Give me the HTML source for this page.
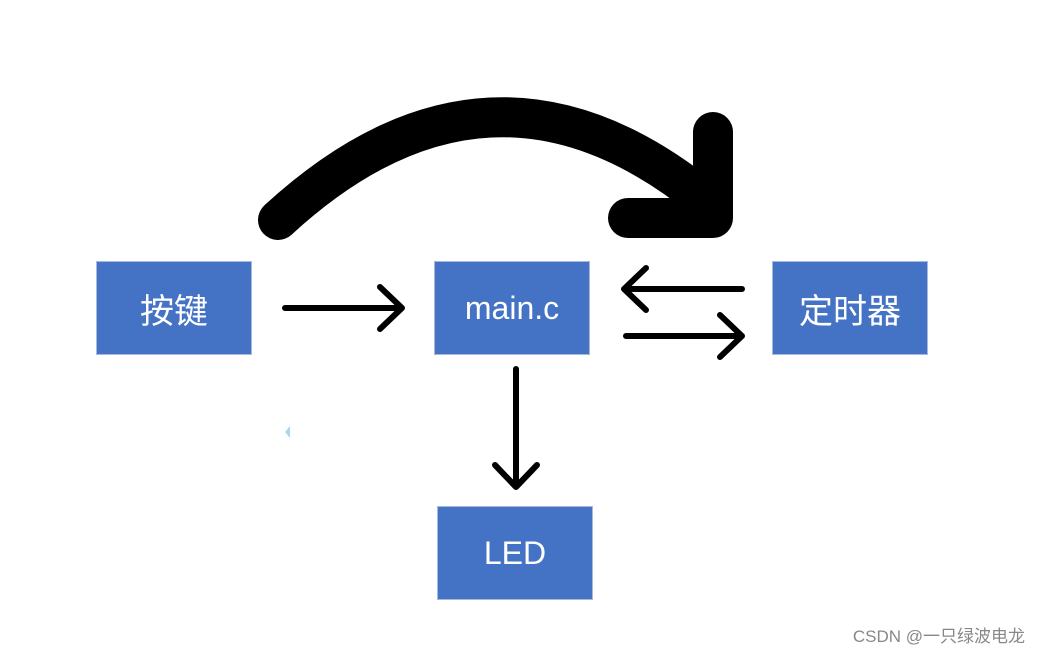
<!DOCTYPE html>
<html><head><meta charset="utf-8"><style>
body{margin:0;width:1040px;height:652px;background:#fff;position:relative;overflow:hidden;font-family:"Liberation Sans","Noto Sans CJK SC",sans-serif}
.b{position:absolute;background:#4472C4;border:1px solid #a9b9d9;box-sizing:border-box;color:#fff;display:flex;align-items:center;justify-content:center;font-size:34px}
.w{position:absolute;right:15px;top:622px;font-size:17px;color:#888}
</style></head><body>
<svg width="1040" height="652" style="position:absolute;left:0;top:0">
<g fill="none" stroke="#000" stroke-linecap="round" stroke-linejoin="round">
<path d="M278,220 Q490,25 705,200" stroke-width="40"/>
<path d="M713,132 L713,218 L628,218" stroke-width="40"/>
<g stroke-width="6">
<path d="M285,308 L402,308 M380,287 L402,308 L380,329"/>
<path d="M742,289 L624,289 M646,268 L624,289 L646,310"/>
<path d="M626,336 L742,336 M720,315 L742,336 L720,357"/>
<path d="M516,369 L516,487 M495,465 L516,487 L537,465"/>
</g></g>
<path d="M290,426 L285,432 L290,438Z" fill="#a8d8f0"/>
</svg>
<div class="b" style="left:96px;top:261px;width:156px;height:94px">按键</div>
<div class="b" style="left:434px;top:261px;width:156px;height:94px;font-size:32px">main.c</div>
<div class="b" style="left:772px;top:261px;width:156px;height:94px">定时器</div>
<div class="b" style="left:437px;top:506px;width:156px;height:94px;font-size:32px">LED</div>
<div class="w">CSDN @一只绿波电龙</div>
</body></html>
